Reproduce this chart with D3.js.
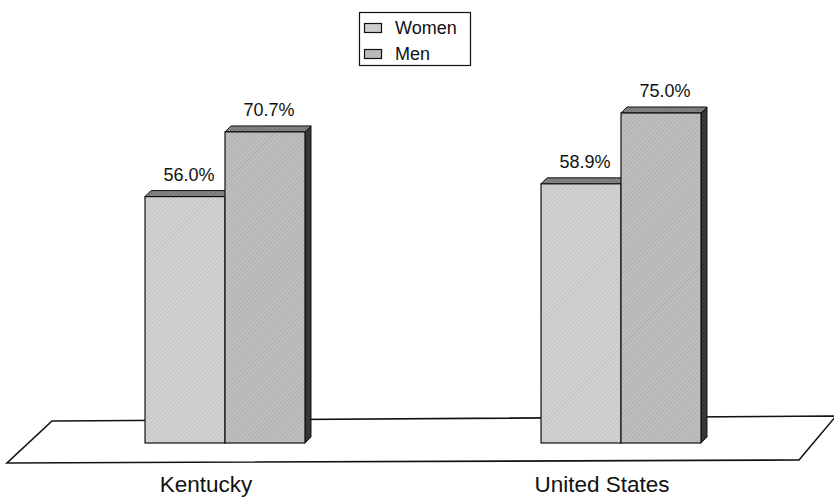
<!DOCTYPE html>
<html>
<head>
<meta charset="utf-8">
<script src="https://cdn.jsdelivr.net/npm/d3@7"></script>
<style>
  html, body { margin: 0; padding: 0; background: #fff; }
  svg { display: block; }
  text { font-family: "Liberation Sans", Arial, Helvetica, sans-serif; fill: #111; }
</style>
</head>
<body>
<svg id="chart" width="834" height="498"></svg>
<script>
// Share of adults by sex, Kentucky vs. United States
const categories = ["Kentucky", "United States"];
const series = ["Women", "Men"];
const women = [56.0, 58.9];
const men = [70.7, 75.0];
const valueLabels = [["56.0%", "70.7%"], ["58.9%", "75.0%"]];

const W = 834, H = 498;
const svg = d3.select("#chart");

// depth of the 3D extrusion
const DX = 6, DY = -6;

// hatched fills
const defs = svg.append("defs");
function hatch(id, base, line) {
  const p = defs.append("pattern")
    .attr("id", id).attr("patternUnits", "userSpaceOnUse")
    .attr("width", 3).attr("height", 3)
    .attr("patternTransform", "rotate(45)");
  p.append("rect").attr("width", 3).attr("height", 3).attr("fill", base);
  p.append("rect").attr("width", 1).attr("height", 3).attr("fill", line);
}
hatch("fillWomen", "#d3d3d3", "#c2c2c2");
hatch("fillMen", "#c0c0c0", "#aeaeae");
hatch("fillTop", "#858585", "#727272");
hatch("fillSide", "#3c3c3c", "#2c2c2c");

const fills = { Women: "url(#fillWomen)", Men: "url(#fillMen)" };

const x = d3.scaleBand().domain(categories).range([27, 819])
  .paddingInner(0.596).paddingOuter(0.298);
const xs = d3.scaleBand().domain(series).range([0, x.bandwidth()]);
const y = d3.scaleLinear().domain([0, 100]).range([443, 3]);

// floor
const floor = [[52, 421], [836, 416], [799, 460], [7, 463]];
svg.append("path")
  .attr("d", d3.line()(floor) + "Z")
  .attr("fill", "#fff").attr("stroke", "#111").attr("stroke-width", 1.6)
  .attr("stroke-linejoin", "miter");

const rows = [];
categories.forEach((c, i) => {
  rows.push({ cat: c, ser: "Women", v: women[i], label: valueLabels[i][0] });
  rows.push({ cat: c, ser: "Men", v: men[i], label: valueLabels[i][1] });
});

const g = svg.append("g");
rows.forEach(d => {
  const x0 = x(d.cat) + xs(d.ser);
  const x1 = x0 + xs.bandwidth();
  const yt = y(d.v), yb = y(0);
  const bar = g.append("g");
  // side face
  bar.append("path")
    .attr("d", d3.line()([[x1, yt], [x1 + DX, yt + DY], [x1 + DX, yb + DY], [x1, yb]]) + "Z")
    .attr("fill", "url(#fillSide)").attr("stroke", "#111").attr("stroke-width", 1);
  // top face
  bar.append("path")
    .attr("d", d3.line()([[x0, yt], [x0 + DX, yt + DY], [x1 + DX, yt + DY], [x1, yt]]) + "Z")
    .attr("fill", "url(#fillTop)").attr("stroke", "#111").attr("stroke-width", 1);
  // front face
  bar.append("rect")
    .attr("x", x0).attr("y", yt).attr("width", x1 - x0).attr("height", yb - yt)
    .attr("fill", fills[d.ser]).attr("stroke", "#111").attr("stroke-width", 1.2);
  // value label
  g.append("text")
    .attr("x", (x0 + x1) / 2 + 4).attr("y", yt - 16)
    .attr("text-anchor", "middle").attr("font-size", 18)
    .text(d.label);
});

// category labels
svg.selectAll("text.cat").data(categories).enter().append("text")
  .attr("class", "cat")
  .attr("x", c => x(c) + x.bandwidth() / 2 - 19)
  .attr("y", 492)
  .attr("text-anchor", "middle").attr("font-size", 22.5)
  .text(c => c);

// legend
const lg = svg.append("g");
lg.append("rect").attr("x", 359.5).attr("y", 12.5).attr("width", 111).attr("height", 53)
  .attr("fill", "#fff").attr("stroke", "#111").attr("stroke-width", 1.2);
series.forEach((s, i) => {
  const yy = 23 + i * 26;
  lg.append("rect").attr("x", 364.5).attr("y", yy + 0.5).attr("width", 17).attr("height", 9)
    .attr("fill", fills[s]).attr("stroke", "#111").attr("stroke-width", 1.2);
  lg.append("text").attr("x", 395).attr("y", yy + 10.5)
    .attr("font-size", 18).text(s);
});
</script>
</body>
</html>
